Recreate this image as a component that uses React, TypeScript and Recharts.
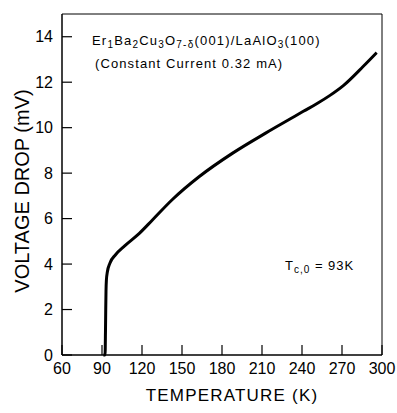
import { LineChart, Line, XAxis, YAxis, ReferenceLine } from 'recharts';

// temperature (K) and voltage drop (mV)
const temperatures = [91, 92.3, 92.6, 92.8, 93.0, 93.3, 94, 96, 100, 107, 118, 128, 143, 163, 188, 213, 231, 241, 251, 261, 271, 286, 296];
const voltages = [0, 0, 1.0, 2.0, 2.8, 3.3, 3.65, 4.05, 4.4, 4.8, 5.35, 5.95, 6.85, 7.85, 8.88, 9.77, 10.38, 10.72, 11.05, 11.42, 11.85, 12.7, 13.3];

const xTicks = [60, 90, 120, 150, 180, 210, 240, 270, 300];
const yTicks = [0, 2, 4, 6, 8, 10, 12, 14];

const data = temperatures.map((t, i) => ({ t, v: voltages[i] }));

const font = '"Liberation Sans", Arial, Helvetica, sans-serif';

const App = () => {
  return (
    <div style={{ position: 'absolute', left: 0, top: 0, width: 397, height: 413, background: '#fff' }}>
      <LineChart width={397} height={413} data={data} margin={{ top: 14, right: 15, left: 0, bottom: 0 }}>
        <XAxis
          dataKey="t"
          type="number"
          domain={[60, 300]}
          ticks={xTicks}
          interval={0}
          height={58}
          tickSize={-10}
          tickMargin={18}
          axisLine={{ stroke: '#000', strokeWidth: 1.5 }}
          tickLine={{ stroke: '#000', strokeWidth: 1.2 }}
          tick={{ fill: '#000', fontSize: 16, fontFamily: font }}
        />
        <YAxis
          type="number"
          domain={[0, 15]}
          ticks={yTicks}
          interval={0}
          width={62}
          tickSize={-10}
          tickMargin={19}
          axisLine={{ stroke: '#000', strokeWidth: 1.5 }}
          tickLine={{ stroke: '#000', strokeWidth: 1.2 }}
          tick={{ fill: '#000', fontSize: 16, fontFamily: font }}
        />
        <ReferenceLine y={15} stroke="#000" strokeWidth={1} />
        <ReferenceLine x={300} stroke="#000" strokeWidth={1} />
        <Line type="monotone" dataKey="v" stroke="#000" strokeWidth={3} dot={false} isAnimationActive={false} />
      </LineChart>
      <svg width={397} height={413} style={{ position: 'absolute', left: 0, top: 0, pointerEvents: 'none' }} fontFamily={font} fill="#000">
        <text x={92} y={45} fontSize={13} letterSpacing={1.2}>
          Er<tspan fontSize={10} dy={3}>1</tspan>
          <tspan dy={-3}>Ba</tspan><tspan fontSize={10} dy={3}>2</tspan>
          <tspan dy={-3}>Cu</tspan><tspan fontSize={10} dy={3}>3</tspan>
          <tspan dy={-3}>O</tspan><tspan fontSize={10} dy={3}>7-δ</tspan>
          <tspan dy={-3}>(001)/LaAlO</tspan><tspan fontSize={10} dy={3}>3</tspan>
          <tspan dy={-3}>(100)</tspan>
        </text>
        <text x={95} y={68} fontSize={13} letterSpacing={1.1}>(Constant Current  0.32 mA)</text>
        <text x={285} y={270} fontSize={13} letterSpacing={1}>
          T<tspan fontSize={10} dy={3}>c,0</tspan><tspan dy={-3}> = 93K</tspan>
        </text>
        <text x={232} y={401} fontSize={17} letterSpacing={1.2} textAnchor="middle">TEMPERATURE  (K)</text>
        <text x={29} y={191} fontSize={20} textAnchor="middle" transform="rotate(-90, 29, 191)">VOLTAGE DROP  (mV)</text>
      </svg>
    </div>
  );
};

export default App;
